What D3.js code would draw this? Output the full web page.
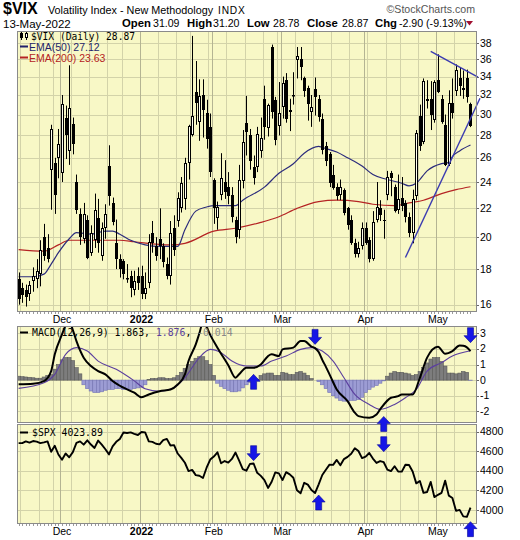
<!DOCTYPE html>
<html><head><meta charset="utf-8">
<script src="https://cdn.jsdelivr.net/npm/d3@7/dist/d3.min.js"></script>
<style>
html,body{margin:0;padding:0;background:#fff;}
svg{display:block;font-family:"Liberation Sans",Arial,sans-serif;}
</style></head><body>
<svg id="chart" width="520" height="540"></svg>
<script>
const dates=["2021-11-12","2021-11-15","2021-11-16","2021-11-17","2021-11-18","2021-11-19","2021-11-22","2021-11-23","2021-11-24","2021-11-26","2021-11-29","2021-11-30",
"2021-12-01","2021-12-02","2021-12-03","2021-12-06","2021-12-07","2021-12-08","2021-12-09","2021-12-10","2021-12-13","2021-12-14","2021-12-15","2021-12-16","2021-12-17","2021-12-20","2021-12-21","2021-12-22","2021-12-23","2021-12-27","2021-12-28","2021-12-29","2021-12-30","2021-12-31",
"2022-01-03","2022-01-04","2022-01-05","2022-01-06","2022-01-07","2022-01-10","2022-01-11","2022-01-12","2022-01-13","2022-01-14","2022-01-18","2022-01-19","2022-01-20","2022-01-21","2022-01-24","2022-01-25","2022-01-26","2022-01-27","2022-01-28","2022-01-31",
"2022-02-01","2022-02-02","2022-02-03","2022-02-04","2022-02-07","2022-02-08","2022-02-09","2022-02-10","2022-02-11","2022-02-14","2022-02-15","2022-02-16","2022-02-17","2022-02-18","2022-02-22","2022-02-23","2022-02-24","2022-02-25","2022-02-28",
"2022-03-01","2022-03-02","2022-03-03","2022-03-04","2022-03-07","2022-03-08","2022-03-09","2022-03-10","2022-03-11","2022-03-14","2022-03-15","2022-03-16","2022-03-17","2022-03-18","2022-03-21","2022-03-22","2022-03-23","2022-03-24","2022-03-25","2022-03-28","2022-03-29","2022-03-30","2022-03-31",
"2022-04-01","2022-04-04","2022-04-05","2022-04-06","2022-04-07","2022-04-08","2022-04-11","2022-04-12","2022-04-13","2022-04-14","2022-04-18","2022-04-19","2022-04-20","2022-04-21","2022-04-22","2022-04-25","2022-04-26","2022-04-27","2022-04-28","2022-04-29",
"2022-05-02","2022-05-03","2022-05-04","2022-05-05","2022-05-06","2022-05-09","2022-05-10","2022-05-11","2022-05-12","2022-05-13"];

const vixOpen=[17.4,16.9,16.8,16.6,17.3,17.4,17.7,20.0,19.3,25.0,25.6,26.0,
24.7,29.7,26.6,29.1,24.0,21.6,19.9,21.2,19.0,19.8,21.3,18.8,20.6,25.3,22.4,19.6,18.6,18.5,17.4,17.6,16.8,17.6,
17.6,16.6,17.2,20.3,19.4,19.9,19.4,18.3,17.6,20.6,21.1,22.0,22.7,25.6,28.0,32.3,29.3,32.0,30.2,28.8,
24.2,21.3,23.0,24.0,23.6,23.0,21.2,20.5,24.1,29.2,28.0,25.2,25.2,26.6,31.6,28.7,37.5,31.5,28.9,
30.8,33.6,30.3,31.9,35.9,36.0,33.8,32.7,30.3,32.6,31.6,29.6,27.0,26.3,24.6,23.6,23.0,23.4,22.0,21.2,19.6,18.9,19.4,
20.6,19.8,18.6,21.2,22.0,21.2,23.0,24.7,23.6,21.9,22.8,22.4,21.4,20.3,22.9,29.9,27.4,31.4,31.6,29.5,
33.6,31.6,29.0,25.5,31.2,32.4,33.8,32.7,33.8,31.09];
const vixHigh=[17.8,17.2,17.1,17.3,18.1,18.6,19.8,20.9,20.2,29.0,26.0,28.6,
32.0,30.9,35.3,29.7,24.6,22.0,22.4,21.5,20.8,23.1,22.7,21.0,22.3,27.1,22.8,21.2,18.9,18.6,18.3,17.9,17.9,18.1,
18.2,17.8,20.2,21.1,20.0,22.0,19.6,18.7,21.1,21.5,23.2,24.4,26.0,29.0,38.9,35.8,33.7,33.7,31.5,30.1,
24.3,22.5,26.4,25.8,24.8,23.6,21.4,25.4,28.5,31.9,28.6,26.2,28.8,29.7,33.0,31.1,37.8,31.8,33.4,
34.0,34.4,31.6,34.5,37.5,37.5,34.0,33.0,32.0,33.9,32.0,30.1,27.4,26.5,25.4,23.9,24.2,23.5,22.1,21.5,19.9,19.7,21.0,
21.0,20.0,21.8,24.0,22.6,21.9,24.9,24.9,23.8,24.6,24.4,22.6,21.7,23.4,28.5,31.0,33.8,33.6,33.5,33.6,
36.6,32.0,30.0,32.5,33.8,35.4,35.0,34.7,34.8,31.20];
const vixLow=[16.0,16.1,15.9,16.2,16.7,16.9,17.0,18.5,18.4,21.9,21.6,24.3,
24.0,25.9,25.4,26.3,21.6,19.5,19.6,18.6,18.8,19.3,19.0,18.5,19.9,22.2,20.8,18.0,17.5,17.4,17.2,16.4,16.5,16.8,
16.3,16.3,16.9,19.0,18.5,18.6,18.1,17.4,17.1,18.8,20.7,21.7,21.9,24.2,27.9,29.0,27.5,27.8,26.8,24.4,
20.9,20.5,22.6,22.7,22.3,21.0,19.6,19.9,23.5,26.2,25.0,23.8,24.8,26.0,27.6,27.9,29.6,27.1,28.0,
29.6,29.2,28.4,31.0,33.8,33.6,31.8,29.4,28.8,29.9,29.3,26.3,25.3,23.6,23.4,22.6,22.6,21.5,20.5,19.5,18.7,18.7,19.2,
19.5,18.4,18.5,21.0,21.1,19.9,22.6,22.9,21.7,21.6,21.8,21.0,20.0,19.6,22.6,26.6,27.2,30.6,28.5,29.2,
32.2,29.1,25.3,25.3,29.6,31.9,31.9,31.6,31.2,28.78];
const vixClose=[16.3,16.5,16.4,17.1,17.6,17.9,19.2,18.8,18.6,28.6,23.0,27.2,
31.1,28.0,30.7,27.2,21.9,20.0,21.6,18.7,20.3,21.9,19.6,20.6,21.6,22.9,21.0,18.6,18.0,17.7,17.5,16.9,17.3,17.2,
16.6,16.9,19.7,19.6,18.8,19.4,18.4,17.6,20.3,19.2,22.8,23.9,25.6,28.85,29.9,31.2,31.9,30.5,27.7,24.8,
22.0,22.1,24.35,23.2,22.9,21.4,20.0,24.2,27.4,28.3,25.7,24.3,28.1,27.75,28.8,31.0,30.3,27.6,30.15,
33.3,29.6,30.5,32.0,36.45,35.1,32.45,31.1,30.75,31.8,29.8,26.7,25.7,23.9,23.5,22.9,23.6,21.7,20.8,19.6,18.9,19.3,20.6,
19.6,18.6,21.0,22.1,21.55,21.16,24.4,24.3,21.8,22.7,22.2,21.4,20.3,22.7,28.2,27.0,33.5,31.6,30.0,33.4,
32.3,29.25,25.4,31.2,30.2,34.75,33.0,32.56,31.77,28.87];

const ema50=[["2021-11-12",17.55],["2021-11-18",17.55],["2021-11-23",17.7],["2021-11-26",18.3],["2021-11-30",19.0],["2021-12-03",19.9],["2021-12-07",20.3],["2021-12-13",20.2],["2021-12-17",20.4],["2021-12-21",20.4],["2021-12-23",20.2],["2021-12-29",19.8],["2022-01-04",19.5],["2022-01-10",19.4],["2022-01-18",19.4],["2022-01-20",20.5],["2022-01-25",21.8],["2022-01-28",22.1],["2022-02-01",22.2],["2022-02-09",22.2],["2022-02-11",22.6],["2022-02-22",23.6],["2022-02-28",24.7],["2022-03-04",25.5],["2022-03-09",26.4],["2022-03-15",27.0],["2022-03-16",26.9],["2022-03-22",26.5],["2022-03-25",26.0],["2022-03-31",25.3],["2022-04-05",24.6],["2022-04-11",24.2],["2022-04-18",23.9],["2022-04-20",23.7],["2022-04-22",23.9],["2022-04-27",24.9],["2022-05-03",25.5],["2022-05-05",25.6],["2022-05-06",26.1],["2022-05-10",26.6],["2022-05-13",27.12]];
const ema200=[["2021-11-12",19.2],["2021-11-23",19.1],["2021-11-30",19.5],["2021-12-03",19.8],["2021-12-15",19.8],["2021-12-23",19.8],["2021-12-30",19.7],["2022-01-13",19.5],["2022-01-20",19.6],["2022-02-01",20.4],["2022-02-09",20.6],["2022-02-18",21.0],["2022-02-28",21.4],["2022-03-07",22.0],["2022-03-15",22.5],["2022-03-22",22.6],["2022-03-30",22.5],["2022-04-05",22.3],["2022-04-13",22.2],["2022-04-20",22.4],["2022-04-26",22.6],["2022-05-03",23.1],["2022-05-09",23.4],["2022-05-13",23.63]];

const macdLine=[["2021-11-12",-0.27],["2021-11-18",-0.23],["2021-11-23",-0.06],["2021-11-26",0.58],["2021-11-29",1.65],["2021-12-01",2.93],["2021-12-02",3.5],["2021-12-03",3.8],["2021-12-06",3.2],["2021-12-07",2.5],["2021-12-09",1.44],["2021-12-13",0.9],["2021-12-15",0.58],["2021-12-17",0.37],["2021-12-21",-0.06],["2021-12-27",-0.49],["2021-12-30",-0.81],["2022-01-03",-1.1],["2022-01-05",-0.92],["2022-01-10",-0.71],["2022-01-13",-0.6],["2022-01-18",-0.28],["2022-01-20",0.37],["2022-01-21",1.22],["2022-01-25",2.29],["2022-01-26",3.0],["2022-01-27",3.7],["2022-01-28",3.4],["2022-01-31",2.9],["2022-02-02",2.08],["2022-02-07",0.95],["2022-02-09",0.15],["2022-02-10",0.37],["2022-02-14",0.79],["2022-02-16",0.79],["2022-02-18",1.0],["2022-02-23",1.54],["2022-02-24",1.65],["2022-02-28",1.54],["2022-03-01",1.97],["2022-03-04",2.08],["2022-03-08",2.5],["2022-03-09",2.5],["2022-03-11",2.15],["2022-03-14",2.05],["2022-03-15",1.8],["2022-03-16",1.3],["2022-03-17",0.85],["2022-03-18",0.37],["2022-03-22",-0.6],["2022-03-25",-1.35],["2022-03-29",-2.09],["2022-03-30",-2.31],["2022-04-04",-2.41],["2022-04-06",-2.2],["2022-04-07",-1.88],["2022-04-12",-1.13],["2022-04-14",-1.03],["2022-04-18",-0.92],["2022-04-21",-0.92],["2022-04-25",0.15],["2022-04-27",1.44],["2022-05-02",2.14],["2022-05-04",1.69],["2022-05-06",1.86],["2022-05-10",2.22],["2022-05-11",2.2],["2022-05-12",2.1],["2022-05-13",1.863]];
const signalLine=[["2021-11-12",-0.53],["2021-11-23",-0.17],["2021-11-29",0.37],["2021-12-02",1.65],["2021-12-07",2.08],["2021-12-10",1.86],["2021-12-15",1.22],["2021-12-22",0.69],["2021-12-30",-0.05],["2022-01-04",-0.55],["2022-01-10",-0.71],["2022-01-14",-0.49],["2022-01-20",0.15],["2022-01-26",1.44],["2022-01-31",1.97],["2022-02-03",1.76],["2022-02-08",1.22],["2022-02-14",0.9],["2022-02-18",0.9],["2022-02-24",1.22],["2022-03-02",1.54],["2022-03-08",1.97],["2022-03-11",2.08],["2022-03-16",1.86],["2022-03-21",1.22],["2022-03-24",0.15],["2022-03-29",-0.92],["2022-04-04",-1.56],["2022-04-07",-1.88],["2022-04-13",-1.56],["2022-04-19",-1.13],["2022-04-22",-0.6],["2022-04-27",0.58],["2022-05-03",1.12],["2022-05-06",1.54],["2022-05-13",1.876]];
const macdHist=[0.25,0.22,0.2,0.18,0.15,0.12,0.12,0.2,0.3,0.35,0.7,1.0,
1.3,1.45,1.45,1.25,0.8,0.4,-0.3,-0.55,-0.7,-0.8,-0.8,-0.75,-0.65,-0.6,-0.6,-0.55,-0.55,-0.6,-0.6,-0.6,-0.55,-0.5,
-0.45,-0.3,0.05,0.1,0.1,0.15,0.15,0.1,0.1,0.15,0.3,0.5,0.75,1.0,1.2,1.4,1.5,1.5,1.25,1.0,
0.3,-0.2,-0.4,-0.55,-0.65,-0.75,-0.75,-0.7,-0.5,-0.3,-0.15,-0.05,0.05,0.3,0.4,0.45,0.45,0.3,0.3,
0.5,0.45,0.35,0.35,0.5,0.55,0.45,0.3,0.1,0.0,-0.1,-0.3,-0.55,-0.8,-1.0,-1.15,-1.3,-1.35,-1.35,-1.3,-1.3,-1.25,-1.1,
-0.8,-0.6,-0.45,-0.35,-0.2,-0.05,0.25,0.45,0.55,0.5,0.5,0.45,0.4,0.3,0.35,0.55,0.8,1.1,1.35,1.45,
1.45,1.2,0.9,0.45,0.45,0.4,0.45,0.55,0.5,-0.014];

const spxClose=[4682.85,4682.80,4700.90,4688.67,4704.54,4697.96,4682.94,4690.70,4701.46,4594.62,4655.27,4567.00,
4513.04,4577.10,4538.43,4591.67,4686.75,4701.21,4667.45,4712.02,4668.97,4634.09,4709.85,4668.67,4620.64,4568.02,4649.23,4696.56,4725.79,4791.19,4786.35,4793.06,4778.73,4766.18,
4796.56,4793.54,4700.58,4696.05,4677.03,4670.29,4713.07,4726.35,4659.03,4662.85,4577.11,4532.76,4482.73,4397.94,4410.13,4356.45,4349.93,4326.51,4431.85,4515.55,
4546.54,4589.38,4477.44,4500.53,4483.87,4521.54,4587.18,4504.08,4418.64,4401.67,4471.07,4475.01,4380.26,4348.87,4304.76,4225.50,4288.70,4384.65,4373.94,
4306.26,4386.54,4363.49,4328.87,4201.09,4170.70,4277.88,4259.52,4204.31,4173.11,4262.45,4357.86,4411.67,4463.12,4461.18,4511.61,4456.24,4520.16,4543.06,4575.52,4631.60,4602.45,4530.41,
4545.86,4582.64,4525.12,4481.15,4500.21,4488.28,4412.53,4397.45,4446.59,4392.59,4391.69,4462.21,4459.45,4393.66,4271.78,4296.12,4175.20,4183.96,4287.50,4131.93,
4155.38,4175.48,4300.17,4146.87,4123.34,3991.24,4001.05,3935.18,3930.08,4023.89];

const priceTicks=[16,18,20,22,24,26,28,30,32,34,36,38];
const macdTicks=[-2,-1,0,1,2,3];
const spxTicks=[4000,4200,4400,4600,4800];
const monthLabels=[["2021-12-01","Dec",false],["2022-01-03","2022",true],["2022-02-01","Feb",false],["2022-03-01","Mar",false],["2022-04-01","Apr",false],["2022-05-02","May",false]];
const resistance=[["2022-04-28",36.95],["2022-05-13",34.4]];
const support=[["2022-04-19",18.7],["2022-05-13",29.6]];
const arrows=[["macd","2022-02-16",0.37,"up"],["macd","2022-03-14",2.29,"down"],["macd","2022-04-08",-2.33,"up"],["macd","2022-05-13",2.40,"down"],
["spx","2022-02-16",4504,"down"],["spx","2022-03-15",4153,"up"],["spx","2022-04-08",4596,"down"],["spx","2022-05-13",3881,"up"]];

// ---------- layout ----------
const svg=d3.select("#chart");
const L=17,R=477;
const P={top:31,bot:312},M={top:326,bot:423},S={top:424,bot:524};
const BG="#f8f8c6",GRID="#d3d3a9",GRIDM="#b4b493",BORDER="#8a8a8a";
const n=dates.length;
const x=d3.scaleLinear().domain([-0.45,126.8]).range([L,R]);
const yP=d3.scaleLog().domain([16,38]).range([304.7,43]);
const yM=d3.scaleLinear().domain([-2,3]).range([411.3,333.3]);
const yS=d3.scaleLinear().domain([4000,4800]).range([510,431.7]);
const di=d=>dates.indexOf(d);
const parse=d3.timeParse("%Y-%m-%d");
const pd=dates.map(parse);
const weekStarts=d3.range(1,n).filter(i=>+d3.timeMonday.floor(pd[i])!==+d3.timeMonday.floor(pd[i-1]));
const monthStarts=d3.range(1,n).filter(i=>pd[i].getMonth()!==pd[i-1].getMonth());

const defs=svg.append("defs");
[["cP",P],["cM",M],["cS",S]].forEach(([id,p])=>{
  defs.append("clipPath").attr("id",id).append("rect").attr("x",L).attr("y",p.top).attr("width",R-L).attr("height",p.bot-p.top);
});

function panel(p,ticks,y,fmt){
  const g=svg.append("g");
  g.append("rect").attr("x",L).attr("y",p.top).attr("width",R-L).attr("height",p.bot-p.top).attr("fill",BG);
  const gg=g.append("g").attr("clip-path",`url(#${p===P?"cP":p===M?"cM":"cS"})`);
  gg.selectAll("line.h").data(ticks).join("line")
    .attr("x1",L).attr("x2",R).attr("y1",d=>Math.round(y(d))+0.5).attr("y2",d=>Math.round(y(d))+0.5)
    .attr("stroke",GRID).attr("stroke-width",1);
  gg.selectAll("line.w").data(weekStarts).join("line")
    .attr("x1",i=>Math.round(x(i-0.5))+0.5).attr("x2",i=>Math.round(x(i-0.5))+0.5)
    .attr("y1",p.top).attr("y2",p.bot)
    .attr("stroke",i=>monthStarts.includes(i)?GRIDM:GRID).attr("stroke-width",1);
  gg.selectAll("line.m").data(monthStarts.filter(i=>!weekStarts.includes(i))).join("line")
    .attr("x1",i=>Math.round(x(i-0.5))+0.5).attr("x2",i=>Math.round(x(i-0.5))+0.5)
    .attr("y1",p.top).attr("y2",p.bot).attr("stroke",GRIDM).attr("stroke-width",1);
  svg.append("g").selectAll("text").data(ticks).join("text")
    .attr("x",480).attr("y",d=>y(d)+3.5).attr("font-size",10.5).attr("fill","#000").text(fmt);
  svg.append("g").selectAll("line").data(ticks).join("line")
    .attr("x1",R).attr("x2",R+2).attr("y1",d=>Math.round(y(d))+0.5).attr("y2",d=>Math.round(y(d))+0.5).attr("stroke","#666");
  return gg;
}
function border(p){
  svg.append("rect").attr("x",L+0.5).attr("y",p.top+0.5).attr("width",R-L-1).attr("height",p.bot-p.top-1)
    .attr("fill","none").attr("stroke",BORDER).attr("stroke-width",1);
}

// ---------- price panel ----------
const gP=panel(P,priceTicks,yP,d=>d);
const lineP=d3.line().x(d=>x(di(d[0]))).y(d=>yP(d[1])).curve(d3.curveMonotoneX);
gP.append("path").attr("d",lineP(ema200)).attr("fill","none").attr("stroke","#b52424").attr("stroke-width",1.2);
gP.append("path").attr("d",lineP(ema50)).attr("fill","none").attr("stroke","#2c2c7c").attr("stroke-width",1.2);

const cx=i=>Math.round(x(i));
const idxs=d3.range(n);
const gC=gP.append("g");
idxs.forEach(i=>{
  const o=vixOpen[i],c=vixClose[i],h=vixHigh[i],l=vixLow[i];
  const top=Math.round(yP(Math.max(o,c))),bot=Math.round(yP(Math.min(o,c)));
  const X=cx(i);
  gC.append("line").attr("x1",X+0.5).attr("x2",X+0.5).attr("y1",yP(h)).attr("y2",top).attr("stroke","#000");
  gC.append("line").attr("x1",X+0.5).attr("x2",X+0.5).attr("y1",bot).attr("y2",yP(l)).attr("stroke","#000");
  if(c>=o){
    gC.append("rect").attr("x",X-0.5).attr("y",top+0.5).attr("width",2).attr("height",Math.max(bot-top-1,0.5))
      .attr("fill","#fffff0").attr("stroke","#000").attr("stroke-width",1);
  }else{
    gC.append("rect").attr("x",X-1).attr("y",top).attr("width",3).attr("height",Math.max(bot-top,1)).attr("fill","#000");
  }
});

function extend(pts,fromX,toX){
  const i0=di(pts[0][0]),i1=di(pts[1][0]);
  const a=Math.log(pts[0][1]),b=Math.log(pts[1][1]);
  const s=(b-a)/(i1-i0);
  const j0=fromX==null?i0:x.invert(fromX), j1=x.invert(toX);
  return [[j0,Math.exp(a+s*(j0-i0))],[j1,Math.exp(a+s*(j1-i0))]];
}
const tl=d3.line().x(d=>x(d[0])).y(d=>yP(d[1]));
svg.append("path").attr("d",tl(extend(resistance,null,478))).attr("stroke","#3b3bb0").attr("stroke-width",1.4).attr("fill","none");
svg.append("path").attr("d",tl(extend(support,null,480))).attr("stroke","#3b3bb0").attr("stroke-width",1.4).attr("fill","none");

// legend price
const lg=svg.append("g");
lg.append("rect").attr("x",20).attr("y",33).attr("width",3).attr("height",5).attr("fill","#000");
lg.append("line").attr("x1",21.5).attr("x2",21.5).attr("y1",32).attr("y2",40).attr("stroke","#000");
lg.append("rect").attr("x",25.5).attr("y",33.5).attr("width",2).attr("height",4).attr("fill","#fff").attr("stroke","#000");
lg.append("line").attr("x1",26.5).attr("x2",26.5).attr("y1",32).attr("y2",33.5).attr("stroke","#000");
lg.append("line").attr("x1",26.5).attr("x2",26.5).attr("y1",37.5).attr("y2",40).attr("stroke","#000");
lg.append("text").attr("x",31).attr("y",39.5).attr("font-family","'DejaVu Sans Mono',monospace").attr("font-size",9.6).text("$VIX (Daily) 28.87");
lg.append("line").attr("x1",20).attr("x2",28).attr("y1",46.5).attr("y2",46.5).attr("stroke","#1f1f6b").attr("stroke-width",2);
lg.append("text").attr("x",29).attr("y",50.5).attr("font-size",10.5).attr("fill","#1f1f6b").text("EMA(50) 27.12");
lg.append("line").attr("x1",20).attr("x2",28).attr("y1",57.5).attr("y2",57.5).attr("stroke","#b52424").attr("stroke-width",2);
lg.append("text").attr("x",29).attr("y",61.5).attr("font-size",10.5).attr("fill","#b52424").text("EMA(200) 23.63");

border(P);

// ---------- MACD panel ----------
const gM=panel(M,macdTicks,yM,d=>d);
gM.selectAll("rect.hist").data(idxs).join("rect")
  .attr("x",i=>x(i)-1.8).attr("width",3.6)
  .attr("y",i=>Math.min(yM(0),yM(macdHist[i]))).attr("height",i=>Math.abs(yM(macdHist[i])-yM(0)))
  .attr("fill",i=>macdHist[i]>=0?"#7d7d7d":"#9c9cd4")
  .attr("stroke",i=>macdHist[i]>=0?"#5a5a5a":"#7474b4").attr("stroke-width",0.6);
const lineM=d3.line().x(d=>x(di(d[0]))).y(d=>yM(d[1])).curve(d3.curveMonotoneX);
gM.append("path").attr("d",lineM(signalLine)).attr("fill","none").attr("stroke","#5b3f9e").attr("stroke-width",1.1);
gM.append("path").attr("d",lineM(macdLine)).attr("fill","none").attr("stroke","#000").attr("stroke-width",2);
const ml=svg.append("text").attr("x",32).attr("y",336).attr("font-family","'DejaVu Sans Mono',monospace").attr("font-size",9.8);
svg.append("line").attr("x1",20).attr("x2",28).attr("y1",332.5).attr("y2",332.5).attr("stroke","#000").attr("stroke-width",2);
ml.append("tspan").attr("fill","#000").text("MACD(12,26,9) 1.863, ");
ml.append("tspan").attr("fill","#5b3f9e").text("1.876");
ml.append("tspan").attr("fill","#000").text(", ");
ml.append("tspan").attr("fill","#888").text("-0.014");
border(M);

// ---------- SPX panel ----------
const gS=panel(S,spxTicks,yS,d=>d);
gS.append("path").attr("d",d3.line().x((d,i)=>x(i)).y(d=>yS(d))(spxClose)).attr("fill","none").attr("stroke","#000").attr("stroke-width",1.9).attr("stroke-linejoin","round");
svg.append("line").attr("x1",20).attr("x2",28).attr("y1",432.5).attr("y2",432.5).attr("stroke","#000").attr("stroke-width",2);
svg.append("text").attr("x",32).attr("y",436).attr("font-family","'DejaVu Sans Mono',monospace").attr("font-size",9.8).text("$SPX 4023.89");
border(S);

[[P.bot],[S.bot]].forEach(([yb])=>{
  svg.append("g").selectAll("line").data(idxs).join("line")
    .attr("x1",i=>cx(i)+0.5).attr("x2",i=>cx(i)+0.5).attr("y1",yb).attr("y2",yb+2).attr("stroke","#9a9a9a");
});

// ---------- arrows ----------
const arrowPath="M0,0 L6.5,7 L3,7 L3,15 L-3,15 L-3,7 L-6.5,7 Z";
svg.append("g").selectAll("path").data(arrows).join("path")
  .attr("d",arrowPath)
  .attr("transform",d=>{
    const X=x(di(d[1])), Y=(d[0]==="macd"?yM:yS)(d[2]);
    return `translate(${X},${Y}) scale(1,${d[3]==="up"?1:-1})`;
  })
  .attr("fill","#1616e6").attr("stroke","#0a0a9a").attr("stroke-width",0.6);

// ---------- month labels ----------
[[323],[535]].forEach(([yy])=>{
  svg.append("g").selectAll("text").data(monthLabels).join("text")
    .attr("x",d=>x(di(d[0]))).attr("y",yy).attr("text-anchor","middle")
    .attr("font-size",10.5).attr("font-weight",d=>d[2]?"bold":"normal").text(d=>d[1]);
});

// ---------- header ----------
svg.append("text").attr("x",3).attr("y",14).attr("font-size",16).attr("font-weight","bold").text("$VIX");
svg.append("text").attr("x",48).attr("y",14).attr("font-size",10.8).text("Volatility Index - New Methodology");
svg.append("text").attr("x",218).attr("y",14).attr("font-size",10.2).attr("letter-spacing",0.8).text("INDX");
svg.append("text").attr("x",475).attr("y",13).attr("text-anchor","end").attr("font-size",10.6).attr("fill","#555").text("\u00A9StockCharts.com");
svg.append("text").attr("x",3).attr("y",27.5).attr("font-size",11.5).text("13-May-2022");
const stats=[["Open",122,"31.09",153],["High",187,"31.20",213],["Low",247,"28.78",273],["Close",307,"28.87",342],["Chg",375,"-2.90 (-9.13%)",399]];
stats.forEach(([lab,lx,val,vx])=>{
  svg.append("text").attr("x",lx).attr("y",26.5).attr("font-size",11.3).attr("font-weight","bold").text(lab);
  svg.append("text").attr("x",vx).attr("y",26.5).attr("font-size",10.6).text(val);
});
svg.append("path").attr("d","M466,21 L473,21 L469.5,25.5 Z").attr("fill","#a01030");
</script></body></html>
